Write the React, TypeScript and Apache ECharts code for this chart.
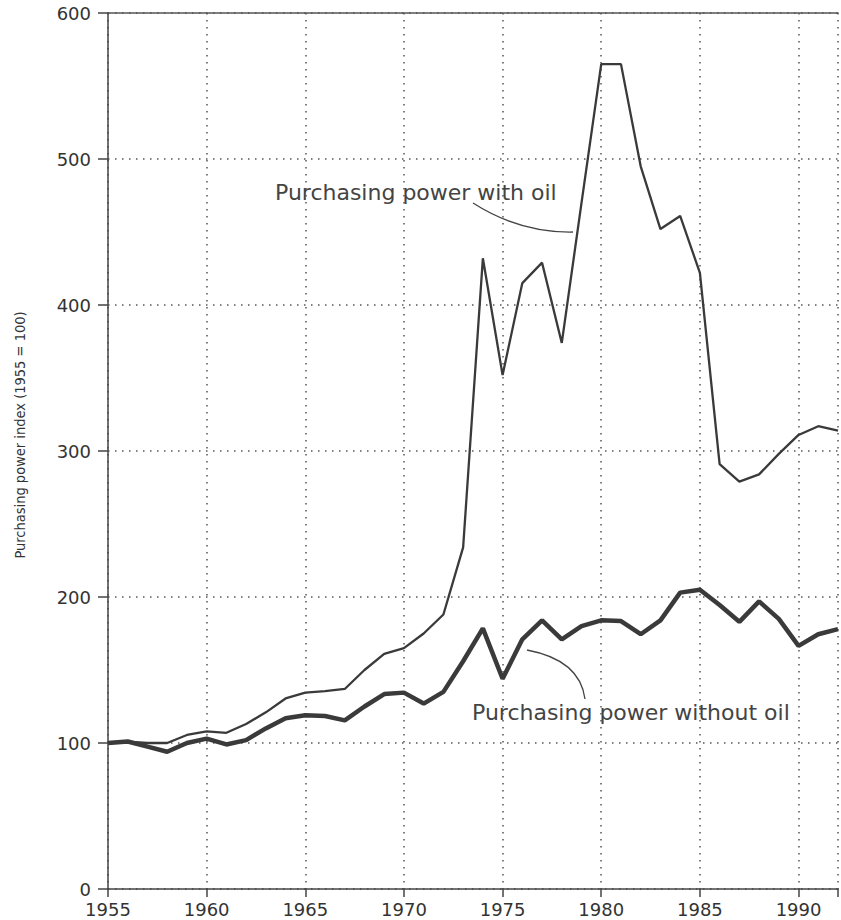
import React, { useEffect, useRef } from "react";
import * as echarts from "echarts";

const years: number[] = [
  1955, 1956, 1957, 1958, 1959, 1960, 1961, 1962, 1963, 1964,
  1965, 1966, 1967, 1968, 1969, 1970, 1971, 1972, 1973, 1974,
  1975, 1976, 1977, 1978, 1979, 1980, 1981, 1982, 1983, 1984,
  1985, 1986, 1987, 1988, 1989, 1990, 1991, 1992,
];

const withOil: number[] = [
  100, 101, 100, 100, 105.5, 108, 107, 113, 121, 130.5,
  134.5, 135.5, 137, 150, 161, 165, 175, 188, 234, 432,
  352, 415, 429, 374, 470, 565, 565, 495, 452, 461,
  422, 291, 279, 284, 298, 311, 317, 314,
];

const withoutOil: number[] = [
  100, 101, 97.5, 94, 100, 103, 99, 102, 110, 117,
  119, 118.5, 115.5, 125, 133.5, 134.5, 127, 135, 156, 178.5,
  144, 171, 184, 171, 180, 184, 183.5, 174.5, 184, 203,
  205, 194.5, 183, 197, 185, 166.5, 174.5, 178,
];

const yTicks: number[] = [0, 100, 200, 300, 400, 500, 600];
const xTickStep = 5;

const labelWithOil = "Purchasing power with oil";
const labelWithoutOil = "Purchasing power without oil";
const yAxisTitle = "Purchasing power index (1955 = 100)";

const INK = "#3a3a3a";
const TEXT = "#333333";
const FONT = "'DejaVu Sans', 'Liberation Sans', sans-serif";

export default function App() {
  const ref = useRef<HTMLDivElement>(null);

  useEffect(() => {
    if (!ref.current) return;
    const chart = echarts.init(ref.current, undefined, { renderer: "svg" });

    const pairs = (vals: number[]) => years.map((y, i) => [y, vals[i]]);
    const dotted = { color: "#555", width: 1.5, type: [1.5, 5.5] };

    chart.setOption({
      animation: false,
      backgroundColor: "#ffffff",
      grid: { left: 108, right: 0, top: 13, bottom: 31 },
      xAxis: [
        {
          type: "value",
          min: years[0],
          max: years[years.length - 1],
          interval: xTickStep,
          axisLine: { show: true, lineStyle: { color: "#444", width: 1.5 } },
          axisTick: { show: true, length: 8, lineStyle: { color: "#444", width: 1.5 } },
          axisLabel: {
            margin: 11,
            color: TEXT,
            fontSize: 18,
            fontFamily: FONT,
            formatter: (v: number) => (v % xTickStep === 0 ? String(v) : ""),
          },
          splitLine: { show: true, lineStyle: dotted },
        },
        {
          type: "value",
          position: "top",
          min: years[0],
          max: years[years.length - 1],
          interval: xTickStep,
          axisLine: { show: true, lineStyle: { color: "#555", width: 1.5 } },
          axisTick: { show: false },
          axisLabel: { show: false },
          splitLine: { show: false },
        },
      ],
      yAxis: {
        type: "value",
        min: yTicks[0],
        max: yTicks[yTicks.length - 1],
        interval: yTicks[1] - yTicks[0],
        axisLine: { show: true, lineStyle: { color: "#444", width: 1.5 } },
        axisTick: { show: true, length: 10, lineStyle: { color: "#444", width: 1.5 } },
        axisLabel: {
          margin: 17,
          color: TEXT,
          fontSize: 18,
          fontFamily: FONT,
        },
        splitLine: { show: true, lineStyle: dotted },
      },
      series: [
        {
          name: labelWithOil,
          type: "line",
          xAxisIndex: 0,
          data: pairs(withOil),
          symbol: "none",
          lineStyle: { color: INK, width: 2.3 },
          z: 3,
        },
        {
          name: labelWithoutOil,
          type: "line",
          xAxisIndex: 0,
          data: pairs(withoutOil),
          symbol: "none",
          lineStyle: { color: INK, width: 4.5 },
          z: 4,
        },
      ],
      graphic: [
        {
          type: "text",
          x: 20,
          y: 435,
          rotation: Math.PI / 2,
          style: {
            text: yAxisTitle,
            fill: TEXT,
            fontSize: 14.5,
            fontFamily: "'DejaVu Sans Condensed', 'Liberation Sans Narrow', 'Liberation Sans', sans-serif",
            align: "center",
            verticalAlign: "middle",
          },
        },
        {
          type: "text",
          x: 275,
          y: 192,
          style: {
            text: labelWithOil,
            fill: "#444",
            fontSize: 22,
            fontFamily: FONT,
            align: "left",
            verticalAlign: "middle",
          },
        },
        {
          type: "bezierCurve",
          shape: { x1: 473, y1: 203, x2: 573, y2: 232, cpx1: 520, cpy1: 233 },
          style: { stroke: "#444", lineWidth: 1.3, fill: "none" },
        },
        {
          type: "text",
          x: 472,
          y: 712,
          style: {
            text: labelWithoutOil,
            fill: "#444",
            fontSize: 22,
            fontFamily: FONT,
            align: "left",
            verticalAlign: "middle",
          },
        },
        {
          type: "bezierCurve",
          shape: { x1: 527, y1: 650, x2: 585, y2: 699, cpx1: 580, cpy1: 660 },
          style: { stroke: "#444", lineWidth: 1.3, fill: "none" },
        },
      ],
    });

    return () => chart.dispose();
  }, []);

  return (
    <div
      ref={ref}
      style={{ position: "absolute", left: 0, top: 0, width: 841, height: 920 }}
    />
  );
}
